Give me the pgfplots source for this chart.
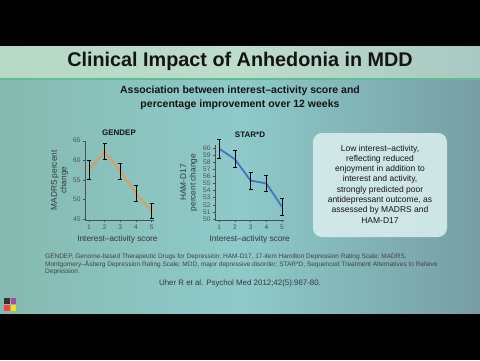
\documentclass[border=0pt]{standalone}
\usepackage{pgfplots}
\pgfplotsset{compat=1.18}
\usepackage{fontspec}
\setmainfont{Liberation Sans}
\definecolor{bgL}{RGB}{134,186,176}
\definecolor{bgM}{RGB}{142,202,202}
\definecolor{bgR}{RGB}{118,158,164}
\definecolor{bandL}{RGB}{182,216,198}
\definecolor{bandR}{RGB}{168,200,194}
\definecolor{gline}{RGB}{92,190,146}
\definecolor{boxfill}{RGB}{216,236,236}
\definecolor{orangeL}{RGB}{230,152,92}
\definecolor{blueL}{RGB}{66,116,196}
\definecolor{axgray}{RGB}{70,80,85}
\definecolor{txt}{RGB}{20,20,20}
\begin{document}
\begin{tikzpicture}[x=1pt,y=1pt]
\useasboundingbox (0,0) rectangle (480,360);
\fill[black] (0,0) rectangle (480,360);
\shade[left color=bgL, right color=bgR, middle color=bgM] (0,47) rectangle (480,281);
\shade[left color=bandL, right color=bandR, middle color=bandL!90!white] (0,282) rectangle (480,314);
\fill[gline] (0,280.5) rectangle (480,282.5);
% title
\node[font=\fontsize{19.8}{22}\selectfont\bfseries, text=txt] at (240,299) {Clinical Impact of Anhedonia in MDD};
\node[font=\fontsize{10.5}{14}\selectfont\bfseries, text=txt, align=center] at (240,262) {Association between interest–activity score and\\percentage improvement over 12 weeks};
% chart titles
\node[font=\fontsize{8}{9}\selectfont\bfseries, text=txt] at (119,227) {GENDEP};
\node[font=\fontsize{8}{9}\selectfont\bfseries, text=txt] at (250,225) {STAR*D};
% GENDEP
\begin{axis}[at={(85pt,140pt)}, anchor=south west, scale only axis,
  width=69pt, height=79.3pt,
  xmin=0.75, xmax=5.15, ymin=44.7, ymax=65,
  axis lines*=left, axis line style={axgray, line width=0.5pt, -},
  xtick={1,2,3,4,5}, ytick={45,50,55,60,65},
  tick align=outside, major tick length=2pt, tick style={axgray, line width=0.4pt},
  /pgf/number format/assume math mode=true,
  ticklabel style={font=\fontsize{6.6}{7}\selectfont, text=axgray},
  xticklabel style={yshift=1pt},
  yticklabel style={xshift=1pt},
  xlabel={Interest–activity score},
  xlabel style={at={(axis description cs:0.47,-0.24)}, anchor=center, font=\fontsize{8.3}{9}\selectfont, text=axgray!70!black},
  ylabel={MADRS percent\\change},
  ylabel style={at={(axis description cs:-0.37,0.5)}, anchor=center, align=center, font=\fontsize{8.3}{9.5}\selectfont, text=axgray!70!black},
  clip=false]
\addplot[color=orangeL, line width=1.8pt, mark=none,
  error bars/.cd, y dir=both, y explicit, error mark=-,
  error bar style={black, line width=0.6pt},
  error mark options={rotate=90, black, mark size=2pt, line width=0.7pt}]
  coordinates {(1,57.5) +- (0,2.4) (2,62.3) +- (0,2.0) (3,57.1) +- (0,2.1) (4,51.6) +- (0,2.0) (5,47.0) +- (0,2.0)};
\end{axis}
% STAR*D
\begin{axis}[at={(215pt,140pt)}, anchor=south west, scale only axis,
  width=69.4pt, height=74.9pt,
  xmin=0.73, xmax=5.15, ymin=49.85, ymax=60.4,
  axis lines*=left, axis line style={axgray, line width=0.5pt, -},
  xtick={1,2,3,4,5}, ytick={50,51,...,60},
  tick align=outside, major tick length=2pt, tick style={axgray, line width=0.4pt},
  /pgf/number format/assume math mode=true,
  ticklabel style={font=\fontsize{6.6}{7}\selectfont, text=axgray},
  xticklabel style={yshift=1pt},
  yticklabel style={xshift=1pt},
  xlabel={Interest–activity score},
  xlabel style={at={(axis description cs:0.5,-0.254)}, anchor=center, font=\fontsize{8.3}{9}\selectfont, text=axgray!70!black},
  ylabel={HAM-D17\\percent change},
  ylabel style={at={(axis description cs:-0.375,0.5)}, anchor=center, align=center, font=\fontsize{8.3}{9.5}\selectfont, text=axgray!70!black},
  clip=false]
\addplot[color=blueL, line width=1.8pt, mark=none,
  error bars/.cd, y dir=both, y explicit, error mark=-,
  error bar style={black, line width=0.6pt},
  error mark options={rotate=90, black, mark size=2pt, line width=0.7pt}]
  coordinates {(1,59.9) +- (0,1.3) (2,58.4) +- (0,1.2) (3,55.4) +- (0,1.2) (4,55.0) +- (0,1.1) (5,51.7) +- (0,1.2)};
\end{axis}
% text box
\fill[boxfill, opacity=0.9, rounded corners=9pt] (313,123) rectangle (447,227);
\node[font=\fontsize{8.5}{10.3}\selectfont, text=txt, align=center] at (380,176) {Low interest–activity,\\reflecting reduced\\enjoyment in addition to\\interest and activity,\\strongly predicted poor\\antidepressant outcome, as\\assessed by MADRS and\\HAM-D17};
% footnote
\node[anchor=north west, inner sep=0pt, font=\fontsize{6.5}{6.7}\selectfont, text=txt!80!white, align=left] at (45,106) {GENDEP, Genome-based Therapeutic Drugs for Depression; HAM-D17, 17-item Hamilton Depression Rating Scale; MADRS,\\Montgomery–Åsberg Depression Rating Scale; MDD, major depressive disorder; STAR*D, Sequenced Treatment Alternatives to Relieve\\Depression.};
\node[font=\fontsize{7.9}{9}\selectfont, text=txt!85!white] at (240,77) {Uher R et al. Psychol Med 2012;42(5):967-80.};
% logo
\fill[black!80] (4,56) rectangle (9.5,62);
\fill[violet!70] (10.5,56) rectangle (16,62);
\fill[red!75] (4,49) rectangle (9.5,55);
\fill[yellow!80!orange] (10.5,49) rectangle (16,55);
\end{tikzpicture}
\end{document}
